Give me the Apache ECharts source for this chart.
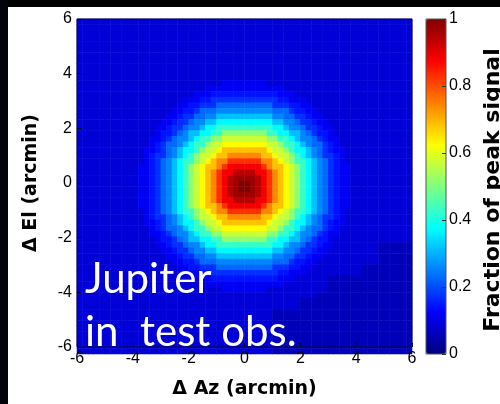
<!DOCTYPE html>
<html>
<head>
<meta charset="utf-8">
<script src="https://cdn.jsdelivr.net/npm/echarts@6/dist/echarts.min.js"></script>
<style>
  html, body { margin: 0; padding: 0; background: #fff; }
  #chart { width: 500px; height: 404px; }
</style>
</head>
<body>
<div id="chart"></div>
<script>
// Beam map of Jupiter: 60 x 60 cells of 0.2 arcmin, rows from top (ΔEl = +5.9') to bottom (ΔEl = -5.9').
// Each character is a signal level: its index in LEVELS divided by 35 (0 .. 1 of peak).
const LEVELS = '0123456789abcdefghijklmnopqrstuvwxyz';
const beamRows = [
  '3333333333 33333333333333333333 33333333333333333333 3333333333',
  '3333333333 33333333333333333333 33333333333333333333 3333333333',
  '3333333333 33333333333333333333 33333333333333333333 3333333333',
  '3333333333 33333333333333333333 33333333333333333333 3333333333',
  '3333333333 33333333333333333333 33333333333333333333 3333333333',
  '3333333333 33333333333333333333 33333333333333333333 3333333333',
  '3333333333 33333333333333333333 33333333333333333333 3333333333',
  '3333333333 33333333333333333333 33333333333333333333 3333333333',
  '3333333333 33333333333333333333 33333333333333333333 3333333333',
  '3333333333 33333333333333333333 33333333333333333333 3333333333',
  '3333333333 33333333333333333333 33333333333333333333 3333333333',
  '3333333333 33333333333333334444 44443333333333333333 3333333333',
  '3333333333 33333333333334444444 44444443333333333333 3333333333',
  '3333333333 33333333333444555555 55555544433333333333 3333333333',
  '3333333333 33333333344455666666 66666655444333333333 3333333333',
  '3333333333 33333333445566688888 88888666554433333333 3333333333',
  '3333333333 33333334455688899999 99999888655443333333 3333333333',
  '3333333333 333333445668899bbbbb bbbbb998866544333333 3333333333',
  '3333333333 3333344566899bbddddd dddddbb9986654433333 3333333333',
  '3333333333 333344566899bddfffff fffffddb998665443333 3333333333',
  '3333333333 3333455689bbddffiiii iiiiffddbb9865543333 3333333333',
  '3333333333 3334456899bdffiikkkk kkkkiiffdb9986544333 3333333333',
  '3333333333 333456889bdffikkmmmm mmmmkkiffdb988654333 3333333333',
  '3333333333 33445689bddfikkmoooo oooomkkifddb98654433 3333333333',
  '3333333333 33456689bdfikkmooqqq qqqoomkkifdb98665433 3333333333',
  '3333333333 3345689bdffikmoqqttt tttqqomkiffdb9865433 3333333333',
  '3333333333 3445689bdfikmooqtvvv vvvtqoomkifdb9865443 3333333333',
  '3333333333 3445689bdfikmoqtvvxx xxvvtqomkifdb9865443 3333333333',
  '3333333333 3445689bdfikmoqtvxyy yyxvtqomkifdb9865443 3333333333',
  '3333333333 3445689bdfikmoqtvxyz zyxvtqomkifdb9865443 3333333333',
  '3333333333 3445689bdfikmoqtvxyz zyxvtqomkifdb9865443 3333333333',
  '3333333333 3445689bdfikmoqtvxyy yyxvtqomkifdb9865443 3333333333',
  '3333333333 3445689bdfikmoqtvvxx xxvvtqomkifdb9865443 3333333333',
  '3333333333 3445689bdfikmooqtvvv vvvtqoomkifdb9865443 3333333333',
  '3333333333 3345689bdffikmoqqttt tttqqomkiffdb9865433 3333333333',
  '3333333333 33456689bdfikkmooqqq qqqoomkkifdb98665433 3333333333',
  '3333333333 33445689bddfikkmoooo oooomkkifddb98654433 3333333333',
  '3333333333 333456889bdffikkmmmm mmmmkkiffdb988654333 3333333333',
  '3333333333 3334456899bdffiikkkk kkkkiiffdb9986544333 3333333333',
  '3333333333 3333455689bbddffiiii iiiiffddbb9865543333 3333333333',
  '3333333333 333344566899bddfffff fffffddb998665443333 3333222222',
  '3333333333 3333344566899bbddddd dddddbb9986654433333 3333222222',
  '3333333333 333333445668899bbbbb bbbbb998866544333333 3333222222',
  '3333333333 33333334455688899999 99999888655443333333 3333222222',
  '3333333333 33333333445566688888 88888666554433333333 3222222222',
  '3333333333 33333333344455666666 66666655444333333333 3222222222',
  '3333333333 33333333333444555555 55555544433333322222 2222222222',
  '3333333333 33333333333334444444 44444443333333322222 2222222222',
  '3333333333 33333333333333334444 44443333333333322222 2222222222',
  '3333333333 33333333333333333333 33333333333332222222 2222222222',
  '3333333333 33333333333333333333 33333333332222222222 2222222222',
  '3333333333 33333333333333333333 33333333332222222222 2222222222',
  '3333333333 33333333333333333333 33333222222222222222 2222222222',
  '3333333333 33333333333333333333 33333222222222222222 2222222222',
  '3333333333 33333333333333333333 33333222222222222222 2222222222',
  '3333333333 33333333333333333333 33333222222222222222 2222222222',
  '3333333333 33333333333333333333 33333222222222222222 2222222222',
  '3333333333 33333333333333333333 33333222222222222222 2222222222',
  '3333333333 33333333333333333333 33333222222222222222 2222222222',
  '3333333333 33333333333333333333 33333222222222222222 2222222222'
];

// Axis ticks (arcmin) and colour-bar ticks (fraction of peak)
const offsetTicks = [-6, -4, -2, 0, 2, 4, 6];
const colorbarTicks = [0, 0.2, 0.4, 0.6, 0.8, 1];

// Jet colour map
const JET = ['#00007f', '#0000ff', '#007fff', '#00ffff', '#7fff7f', '#ffff00', '#ff7f00', '#ff0000', '#7f0000'];

const PLOT = { left: 77, top: 19, width: 335, height: 335 };
const CBAR = { left: 426, top: 19, width: 20, height: 335 };

const rows = beamRows.map(r => r.replace(/ /g, ''));
const nRows = rows.length;
const nCols = rows[0].length;
const cells = [];
rows.forEach((row, r) => {
  for (let c = 0; c < row.length; c++) {
    cells.push([c, nRows - 1 - r, LEVELS.indexOf(row[c]) / (LEVELS.length - 1)]);
  }
});
const colCats = Array.from({ length: nCols }, (_, i) => i);
const rowCats = Array.from({ length: nRows }, (_, i) => i);

const tickFont = { fontFamily: 'Liberation Sans', fontSize: 16, color: '#000' };
const nameFont = { fontFamily: 'DejaVu Sans', fontWeight: 'bold', fontSize: 19, color: '#000' };

const offsetAxis = {
  type: 'value',
  gridIndex: 1,
  min: offsetTicks[0],
  max: offsetTicks[offsetTicks.length - 1],
  interval: offsetTicks[1] - offsetTicks[0],
  axisLine: { show: false, onZero: false },
  axisTick: { inside: true, length: 4, lineStyle: { color: '#000020' } },
  splitLine: { show: false },
  nameLocation: 'middle',
  nameTextStyle: nameFont,
  z: 5
};

const chart = echarts.init(document.getElementById('chart'), null, { renderer: 'canvas' });
chart.setOption({
  backgroundColor: '#ffffff',
  animation: false,
  grid: [
    Object.assign({}, PLOT),
    Object.assign({ show: true, borderColor: '#08083a', borderWidth: 1, backgroundColor: 'transparent', z: 5 }, PLOT),
    Object.assign({ show: true, borderColor: '#555', borderWidth: 1, backgroundColor: 'transparent', z: 10 }, CBAR)
  ],
  xAxis: [
    { type: 'category', gridIndex: 0, data: colCats, show: false },
    Object.assign({}, offsetAxis, {
      position: 'bottom',
      name: 'Δ Az (arcmin)',
      nameGap: 33,
      axisLabel: Object.assign({ margin: 4 }, tickFont)
    }),
    { type: 'value', gridIndex: 2, min: 0, max: 1, show: false }
  ],
  yAxis: [
    { type: 'category', gridIndex: 0, data: rowCats, show: false },
    Object.assign({}, offsetAxis, {
      position: 'left',
      name: 'Δ El (arcmin)',
      nameGap: 36,
      axisLabel: Object.assign({ margin: 5 }, tickFont)
    }),
    {
      type: 'value',
      gridIndex: 2,
      position: 'right',
      min: colorbarTicks[0],
      max: colorbarTicks[colorbarTicks.length - 1],
      interval: colorbarTicks[1] - colorbarTicks[0],
      axisLine: { show: false, onZero: false },
      axisTick: { inside: true, length: 4, lineStyle: { color: '#333' } },
      splitLine: { show: false },
      axisLabel: Object.assign({ margin: 3 }, tickFont),
      z: 10
    }
  ],
  visualMap: {
    type: 'continuous',
    min: 0,
    max: 1,
    seriesIndex: 0,
    dimension: 2,
    calculable: false,
    hoverLink: false,
    orient: 'vertical',
    left: CBAR.left,
    top: CBAR.top,
    itemWidth: CBAR.width,
    itemHeight: CBAR.height,
    padding: 0,
    text: null,
    inRange: { color: JET }
  },
  series: [{
    type: 'heatmap',
    xAxisIndex: 0,
    yAxisIndex: 0,
    data: cells,
    progressive: 0,
    emphasis: { disabled: true }
  }],
  graphic: [
    { type: 'rect', x: 0, y: 0, shape: { width: 500, height: 7 }, style: { fill: '#000' }, z: 100 },
    { type: 'rect', x: 0, y: 0, shape: { width: 8, height: 404 }, style: { fill: '#03030d' }, z: 100 },
    { type: 'text', x: 85, y: 279, z: 100,
      style: { text: 'Jupiter', fill: '#fff', font: '42px Lato', align: 'left', verticalAlign: 'middle' } },
    { type: 'text', x: 85, y: 332, z: 100,
      style: { text: 'in  test obs.', fill: '#fff', font: '42px Lato', align: 'left', verticalAlign: 'middle' } },
    { type: 'text', x: 493, y: 190, rotation: Math.PI / 2, z: 100,
      style: { text: 'Fraction of peak signal', fill: '#000', font: 'bold 22px "DejaVu Sans"', align: 'center', verticalAlign: 'middle' } }
  ]
});
</script>
</body>
</html>
